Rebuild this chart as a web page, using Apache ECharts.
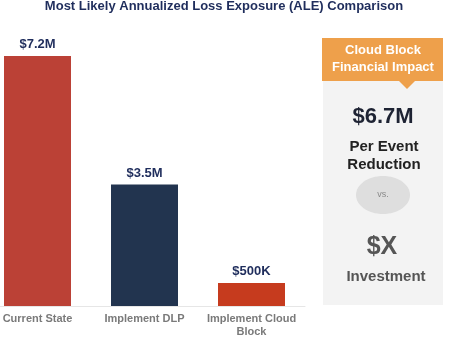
<!DOCTYPE html>
<html><head><meta charset="utf-8">
<script src="https://cdn.jsdelivr.net/npm/echarts@6/dist/echarts.min.js"></script>
<style>html,body{margin:0;padding:0;background:#fff}#c{width:450px;height:337px}</style>
</head><body><div id="c"></div>
<script>
const categories = ['Current State', 'Implement DLP', 'Implement Cloud\nBlock'];
const values = [7.2, 3.5, 0.5];
const valueLabels = ['$7.2M', '$3.5M', '$500K'];
const barColors = ['#bb4136', '#22344f', '#c63b1e'];
const titleText = 'Most Likely Annualized Loss Exposure (ALE) Comparison';
const panelTexts = {
  header: 'Cloud Block\nFinancial Impact',
  reduction: '$6.7M',
  reductionLabel: 'Per Event\nReduction',
  vs: 'vs.',
  investment: '$X',
  investmentLabel: 'Investment'
};

const chart = echarts.init(document.getElementById('c'), null, {renderer: 'canvas'});
const font = 'Liberation Sans, Arial, sans-serif';
chart.setOption({
  animation: false,
  title: {
    text: titleText, left: 219, textAlign: 'center', top: -5,
    textStyle: {fontFamily: font, fontSize: 13, fontWeight: 'bold', color: '#1f2d5c'}
  },
  grid: {left: -16, width: 321, top: 56, bottom: 31, containLabel: false, outerBoundsMode: 'none'},
  xAxis: {
    type: 'category', data: categories,
    axisLine: {lineStyle: {color: '#e6e6e6', width: 1}},
    axisTick: {show: false},
    axisLabel: {fontFamily: font, fontSize: 11, fontWeight: 'bold', color: '#7a7a7a', margin: 6, lineHeight: 13, interval: 0}
  },
  yAxis: {type: 'value', min: 0, max: 7.2, show: false, splitLine: {show: false}},
  series: [{
    type: 'bar', barWidth: 67, barMinHeight: 23,
    data: values.map((v, i) => ({value: v, itemStyle: {color: barColors[i]}})),
    label: {
      show: true, position: 'top', distance: 5,
      formatter: p => valueLabels[p.dataIndex],
      fontFamily: font, fontSize: 13, fontWeight: 'bold', color: '#1f2d5c'
    }
  }],
  graphic: [
    {type: 'rect', shape: {x: 323, y: 60, width: 120, height: 245}, style: {fill: '#f3f3f3'}},
    {type: 'rect', shape: {x: 322, y: 38, width: 121, height: 43}, style: {fill: '#eea04b'}},
    {type: 'polygon', shape: {points: [[399, 81], [415, 81], [407, 89]]}, style: {fill: '#eea04b'}},
    {type: 'text', x: 383, y: 59, style: {text: panelTexts.header, textAlign: 'center', textVerticalAlign: 'middle', fontFamily: font, fontSize: 13, fontWeight: 'bold', fill: '#ffffff', lineHeight: 17}},
    {type: 'text', x: 383, y: 117, style: {text: panelTexts.reduction, textAlign: 'center', textVerticalAlign: 'middle', fontFamily: font, fontSize: 22, fontWeight: 'bold', fill: '#1e2333'}},
    {type: 'text', x: 384, y: 156, style: {text: panelTexts.reductionLabel, textAlign: 'center', textVerticalAlign: 'middle', fontFamily: font, fontSize: 15, fontWeight: 'bold', fill: '#222222', lineHeight: 18}},
    {type: 'ellipse', shape: {cx: 383, cy: 195, rx: 27, ry: 19}, style: {fill: '#dedede'}},
    {type: 'text', x: 383, y: 195, style: {text: panelTexts.vs, textAlign: 'center', textVerticalAlign: 'middle', fontFamily: font, fontSize: 9, fill: '#8a8a8a'}},
    {type: 'text', x: 382, y: 247, style: {text: panelTexts.investment, textAlign: 'center', textVerticalAlign: 'middle', fontFamily: font, fontSize: 25, fontWeight: 'bold', fill: '#555555'}},
    {type: 'text', x: 386, y: 277, style: {text: panelTexts.investmentLabel, textAlign: 'center', textVerticalAlign: 'middle', fontFamily: font, fontSize: 15, fontWeight: 'bold', fill: '#555555'}}
  ]
});
</script></body></html>
